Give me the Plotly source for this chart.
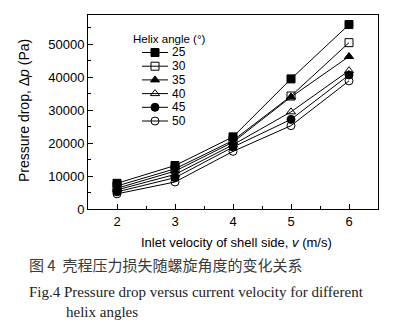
import plotly.graph_objects as go

velocity = [2, 3, 4, 5, 6]
angles = ["25", "30", "35", "40", "45", "50"]
dp_25 = [7800, 13200, 21900, 39500, 56000]
dp_30 = [7000, 12200, 20800, 34300, 50500]
dp_35 = [6300, 11500, 20300, 34000, 46300]
dp_40 = [5800, 10500, 19500, 29500, 42000]
dp_45 = [5200, 9500, 18800, 27200, 40700]
dp_50 = [4600, 8200, 17500, 25300, 38900]
series = [dp_25, dp_30, dp_35, dp_40, dp_45, dp_50]
symbols = ["square", "square-open", "triangle-up", "triangle-up-open", "circle", "circle-open"]

W, H = 415, 322
l, r, t, b = 88, 37, 15, 113
pw, ph = W - l - r, H - t - b

def px(xp):
    return (xp - l) / pw

def py(yp):
    return (H - b - yp) / ph

fig = go.Figure()
for name, ys, sym in zip(angles, series, symbols):
    fig.add_trace(go.Scatter(
        x=velocity, y=ys, name=name, mode="lines+markers",
        line=dict(color="black", width=1),
        marker=dict(symbol=sym, size=8, color="black",
                    line=dict(color="black", width=1)),
        showlegend=False,
    ))

# custom compact legend drawn on an overlay axis in pixel units
leg_y = [52.5, 66.2, 79.9, 93.6, 107.3, 121]
for name, sym, yy in zip(angles, symbols, leg_y):
    fig.add_trace(go.Scatter(
        x=[142, 168], y=[yy, yy], mode="lines", xaxis="x2", yaxis="y2",
        line=dict(color="black", width=1), showlegend=False, hoverinfo="skip"))
    fig.add_trace(go.Scatter(
        x=[155], y=[yy], mode="markers", xaxis="x2", yaxis="y2",
        marker=dict(symbol=sym, size=8, color="black", line=dict(color="black", width=1)),
        showlegend=False, hoverinfo="skip"))

axis_common = dict(
    showline=True, linecolor="black", linewidth=1, mirror=True,
    ticks="inside", ticklen=5, tickcolor="black", showgrid=False,
    zeroline=False, tickfont=dict(family="Liberation Sans", size=13, color="black"),
    minor=dict(ticks="inside", ticklen=3, tickcolor="black"),
)
fig.update_xaxes(range=[1.5, 6.5], tickvals=[2, 3, 4, 5, 6], minor_dtick=0.5, **axis_common)
fig.update_yaxes(range=[0, 58900], tickvals=[0, 10000, 20000, 30000, 40000, 50000],
                 tickformat="d", minor_dtick=5000, **axis_common)

fig.update_layout(
    width=W, height=H,
    margin=dict(l=l, r=r, t=t, b=b),
    paper_bgcolor="white", plot_bgcolor="white",
    showlegend=False,
    xaxis2=dict(overlaying="x", range=[l, W - r], visible=False),
    yaxis2=dict(overlaying="y", range=[H - b, t], visible=False),
)

ann_font = dict(family="Liberation Sans", color="black")
annotations = [
    dict(text="Helix angle (°)", x=px(131), y=py(38.5), xanchor="left", yanchor="middle",
         font=dict(size=11.5, **ann_font)),
    dict(text="Pressure drop, Δ<i>p</i> (Pa)", x=px(24), y=py(111), xanchor="center", yanchor="middle",
         textangle=-90, font=dict(size=14, **ann_font)),
    dict(text="Inlet velocity of shell side, <i>v</i> (m/s)", x=px(236), y=py(242),
         xanchor="center", yanchor="middle", font=dict(size=13, **ann_font)),
    dict(text="图 4  壳程压力损失随螺旋角度的变化关系", x=px(27), y=py(264),
         xanchor="left", yanchor="middle",
         font=dict(family="Noto Sans CJK SC", size=15, color="#3a3a3a")),
    dict(text="Fig.4 Pressure drop versus current velocity for different", x=px(27), y=py(292),
         xanchor="left", yanchor="middle", font=dict(family="Liberation Serif", size=15, color="#222222")),
    dict(text="helix angles", x=px(64), y=py(312), xanchor="left", yanchor="middle",
         font=dict(family="Liberation Serif", size=15, color="#222222")),
]
for name, yy in zip(angles, leg_y):
    annotations.append(dict(text=name, x=px(170), y=py(yy), xanchor="left", yanchor="middle",
                            font=dict(size=12, **ann_font)))
for a in annotations:
    a.update(xref="paper", yref="paper", showarrow=False)
fig.update_layout(annotations=annotations)

fig.write_html("out.html")
